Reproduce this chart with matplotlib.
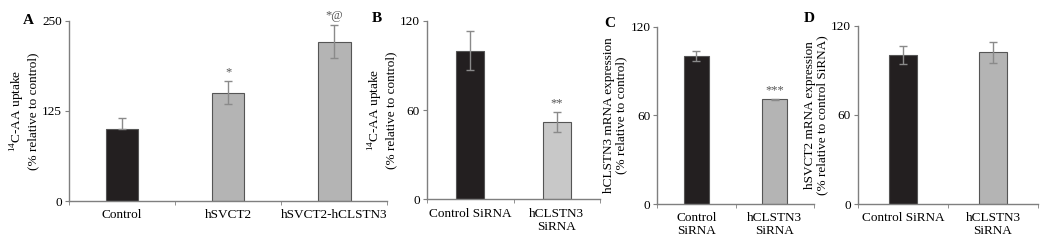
import numpy as np
import matplotlib
matplotlib.use("Agg")
import matplotlib.pyplot as plt

plt.rcParams['font.family'] = ['Liberation Serif', 'DejaVu Serif']
plt.rcParams['mathtext.fontset'] = 'custom'
plt.rcParams['mathtext.rm'] = 'Liberation Serif'

# panel A
a_labels = ['Control', 'hSVCT2', 'hSVCT2-hCLSTN3']
a_values = [100, 150, 221]
a_err_lo = [0, 16, 23]
a_err_hi = [15, 16, 23]
a_marks = ['', '*', '*@']

# panel B
b_labels = ['Control SiRNA', 'hCLSTN3\nSiRNA']
b_values = [100, 52]
b_err = [13, 7]
b_marks = ['', '**']

# panel C
c_labels = ['Control\nSiRNA', 'hCLSTN3\nSiRNA']
c_values = [100, 71]
c_err = [3.5, 0.4]
c_marks = ['', '***']

# panel D
d_labels = ['Control SiRNA', 'hCLSTN3\nSiRNA']
d_values = [100, 102]
d_err = [6, 7]

dark = '#231f20'
grey = '#b4b4b4'
spine_col = '#7f7f7f'

fig = plt.figure(figsize=(10.5, 2.47), dpi=100)


def panel(rect, labels, values, yerr, colors, ymax, yticks, ylabel, letter, letter_pos,
          marks=None, width=0.31, fs_lab=9.5):
    ax = fig.add_axes(rect)
    x = np.arange(len(values))
    ax.bar(x, values, width=width, color=colors, edgecolor='#555555',
           linewidth=0.8, zorder=2)
    ax.errorbar(x, values, yerr=yerr, fmt='none', ecolor='#8a8a8a',
                elinewidth=1.0, capsize=3, capthick=1.0, zorder=3)
    ax.set_xlim(-0.5, len(values) - 0.5)
    ax.set_ylim(0, ymax)
    ax.set_yticks(yticks)
    ax.set_xticks(x)
    ax.set_xticklabels(labels, fontsize=fs_lab, linespacing=1.1)
    ax.tick_params(axis='x', which='major', length=0, pad=6)
    ax.set_xticks(np.arange(len(values) + 1) - 0.5, minor=True)
    ax.tick_params(axis='x', which='minor', length=3, color=spine_col, direction='out')
    ax.tick_params(axis='y', length=3, color=spine_col, labelsize=fs_lab, pad=2)
    for s in ['top', 'right']:
        ax.spines[s].set_visible(False)
    for s in ['left', 'bottom']:
        ax.spines[s].set_color(spine_col)
        ax.spines[s].set_linewidth(1.0)
    ax.set_ylabel(ylabel, fontsize=fs_lab, linespacing=1.05, labelpad=2)
    if marks:
        top = np.array(values) + np.array(yerr if np.ndim(yerr) == 1 else yerr[1])
        for xi, t, m in zip(x, top, marks):
            if m:
                ax.text(xi, t + ymax * 0.015, m, ha='center', va='bottom',
                        fontsize=9, color='#555555')
    ax.text(letter_pos[0], letter_pos[1], letter, transform=ax.transAxes,
            fontsize=11, fontweight='bold', ha='right', va='center')
    return ax


panel([0.0657, 0.1862, 0.303, 0.730], a_labels, a_values, [a_err_lo, a_err_hi],
      [dark, grey, grey], 250, [0, 125, 250],
      '$^{14}$C-AA uptake\n(% relative to control)', 'A', (-0.112, 1.0), a_marks)

panel([0.4067, 0.193, 0.1647, 0.723], b_labels, b_values, b_err,
      [dark, '#c8c8c8'], 120, [0, 60, 120],
      '$^{14}$C-AA uptake\n(% relative to control)', 'B', (-0.26, 1.01), b_marks, width=0.32)

panel([0.626, 0.174, 0.149, 0.718], c_labels, c_values, c_err,
      [dark, grey], 120, [0, 60, 120],
      'hCLSTN3 mRNA expression\n(% relative to control)', 'C', (-0.27, 1.02), c_marks,
      width=0.32)

panel([0.8169, 0.174, 0.1717, 0.722], d_labels, d_values, d_err,
      [dark, grey], 120, [0, 60, 120],
      'hSVCT2 mRNA expression\n(% relative to control SiRNA)', 'D', (-0.24, 1.043),
      width=0.31)

fig.savefig('out.png', dpi=100, facecolor='white')
